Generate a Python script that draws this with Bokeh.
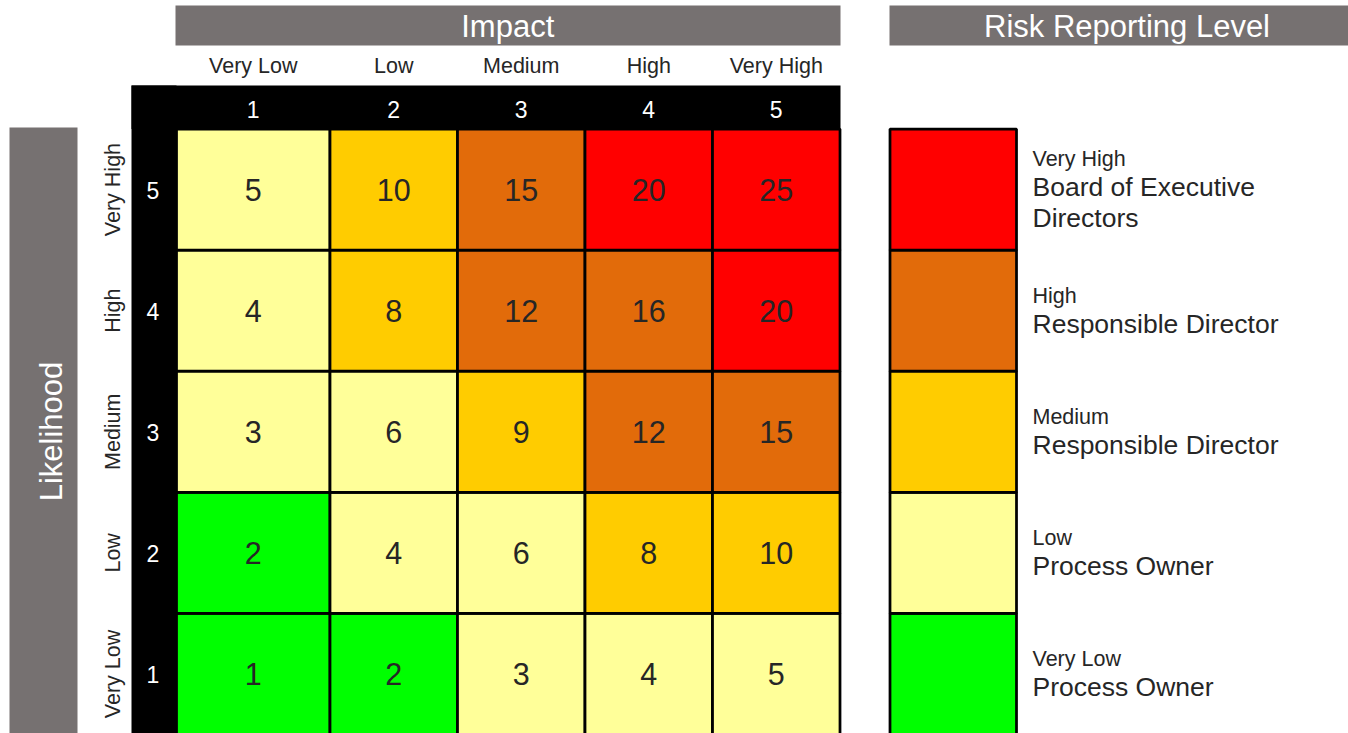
import numpy as np
from bokeh.plotting import figure
from bokeh.models import Range1d, ColumnDataSource
from bokeh.core.properties import value
from bokeh.embed import file_html
from bokeh.resources import INLINE

# ---------------- data ----------------
impact_labels = ["Very Low", "Low", "Medium", "High", "Very High"]
impact_scores = [1, 2, 3, 4, 5]
likelihood_labels = ["Very Low", "Low", "Medium", "High", "Very High"]
likelihood_scores = [1, 2, 3, 4, 5]
# rows: likelihood 1..5 ; columns: impact 1..5
risk_scores = [
    [1, 2, 3, 4, 5],
    [2, 4, 6, 8, 10],
    [3, 6, 9, 12, 15],
    [4, 8, 12, 16, 20],
    [5, 10, 15, 20, 25],
]
# reporting level of each cell (0 = Very Low ... 4 = Very High)
risk_levels = [
    [0, 0, 1, 1, 1],
    [0, 1, 1, 2, 2],
    [1, 1, 2, 3, 3],
    [1, 2, 3, 3, 4],
    [1, 2, 3, 4, 4],
]
level_names = ["Very Low", "Low", "Medium", "High", "Very High"]
level_owners = [
    ["Process Owner"],
    ["Process Owner"],
    ["Responsible Director"],
    ["Responsible Director"],
    ["Board of Executive", "Directors"],
]
level_colors = ["#00FF00", "#FFFF99", "#FFCC00", "#E26B0A", "#FF0000"]
title_impact = "Impact"
title_likelihood = "Likelihood"
title_levels = "Risk Reporting Level"

# ---------------- layout (screen units) ----------------
W, H = 1348, 733
GREY = "#767171"
TXT = "#262626"
FONT = value("Liberation Sans")
BF = 0.36  # baseline correction, in em

GRID_LEFT = 176.0
FIRST_W = 153.5
COL_W = 127.5
GRID_TOP = 128.5
ROW_H = 121.1
BLACK_LEFT = 131.0
BLACK_TOP = 85.0
LEG_LEFT = 889.5
LEG_RIGHT = 1016.0
LEG_TEXT_X = 1032.0

n = len(impact_scores)
col_edges = [GRID_LEFT]
for i in range(n):
    col_edges.append(col_edges[-1] + (FIRST_W if i == 0 else COL_W))
col_left = col_edges[:-1]
col_right = col_edges[1:]
col_mid = [(a + b) / 2 for a, b in zip(col_left, col_right)]
GRID_RIGHT = col_edges[-1]


def row_top(li):  # li: likelihood index, 0 = bottom row
    return GRID_TOP + ROW_H * (n - 1 - li)


def row_mid(li):
    return row_top(li) + ROW_H / 2


def base(y, fs):
    return y - BF * fs


p = figure(width=W, height=H, output_backend="svg", toolbar_location=None,
           x_range=Range1d(0, W), y_range=Range1d(H, 0), min_border=0)
p.axis.visible = False
p.grid.visible = False
p.outline_line_color = None
p.background_fill_color = "white"
p.border_fill_color = "white"

# grey title bars
p.quad(left=[175, 889, 9], right=[GRID_RIGHT + 0.5, 1380, 77],
       top=[5, 5, 127], bottom=[45, 45, 800],
       fill_color=GREY, line_color=None)
p.text(x=[(175 + GRID_RIGHT) / 2, 1126.5], y=[base(37, 31)] * 2,
       text=[title_impact, title_levels], text_font=FONT, text_font_size="31px",
       text_color="white", text_align="center", text_baseline="alphabetic")
p.text(x=[base(62, 31)], y=[431], text=[title_likelihood], angle=np.pi / 2,
       text_font=FONT, text_font_size="31px", text_color="white",
       text_align="center", text_baseline="alphabetic")

# black header band and row-number band
p.quad(left=[BLACK_LEFT, BLACK_LEFT], right=[GRID_RIGHT + 0.5, GRID_LEFT],
       top=[BLACK_TOP, BLACK_TOP], bottom=[GRID_TOP, 800],
       fill_color="black", line_color=None)

# column labels and numbers
p.text(x=col_mid, y=[base(73, 21.5)] * n, text=impact_labels, text_font=FONT,
       text_font_size="21.5px", text_color=TXT, text_align="center",
       text_baseline="alphabetic")
p.text(x=col_mid, y=[base(117, 23)] * n, text=[str(s) for s in impact_scores],
       text_font=FONT, text_font_size="23px", text_color="white",
       text_align="center", text_baseline="alphabetic")

# row labels and numbers
rmid = [row_mid(i) for i in range(n)]
p.text(x=[base(120, 21.5)] * n, y=rmid, text=likelihood_labels, angle=np.pi / 2,
       text_font=FONT, text_font_size="21.5px", text_color=TXT,
       text_align="center", text_baseline="alphabetic")
p.text(x=[152.5] * n, y=[base(m + 9, 23) for m in rmid],
       text=[str(s) for s in likelihood_scores], text_font=FONT,
       text_font_size="23px", text_color="white", text_align="center",
       text_baseline="alphabetic")

# matrix cells
cl, cr, ct, cb, cc, cx, cy, ctxt = [], [], [], [], [], [], [], []
for li in range(n):
    for ii in range(n):
        cl.append(col_left[ii]); cr.append(col_right[ii])
        ct.append(row_top(li)); cb.append(row_top(li) + ROW_H)
        cc.append(level_colors[risk_levels[li][ii]])
        cx.append(col_mid[ii]); cy.append(base(row_mid(li) + 11.5, 30.5))
        ctxt.append(str(risk_scores[li][ii]))
cells = ColumnDataSource(dict(left=cl, right=cr, top=ct, bottom=cb, color=cc))
p.quad(left="left", right="right", top="top", bottom="bottom", source=cells,
       fill_color="color", line_color="black", line_width=2.75)
p.text(x=cx, y=cy, text=ctxt, text_font=FONT, text_font_size="30.5px",
       text_color=TXT, text_align="center", text_baseline="alphabetic")

# legend boxes
p.quad(left=[LEG_LEFT] * n, right=[LEG_RIGHT] * n,
       top=[row_top(j) for j in range(n)],
       bottom=[row_top(j) + ROW_H for j in range(n)],
       fill_color=level_colors, line_color="black", line_width=2.75)
sx, sy, st, bx, by, bt = [], [], [], [], [], []
for j in range(n):
    m = row_mid(j)
    k = len(level_owners[j])
    small_base = m - 7 - 15.5 * (k - 1)
    sx.append(LEG_TEXT_X); sy.append(base(small_base, 21.5)); st.append(level_names[j])
    for t, line in enumerate(level_owners[j]):
        bx.append(LEG_TEXT_X); by.append(base(small_base + 29.5 + 31 * t, 26.5)); bt.append(line)
p.text(x=sx, y=sy, text=st, text_font=FONT, text_font_size="21.5px",
       text_color=TXT, text_align="left", text_baseline="alphabetic")
p.text(x=bx, y=by, text=bt, text_font=FONT, text_font_size="26.5px",
       text_color=TXT, text_align="left", text_baseline="alphabetic")

open("out.html", "w").write(file_html(p, INLINE))
